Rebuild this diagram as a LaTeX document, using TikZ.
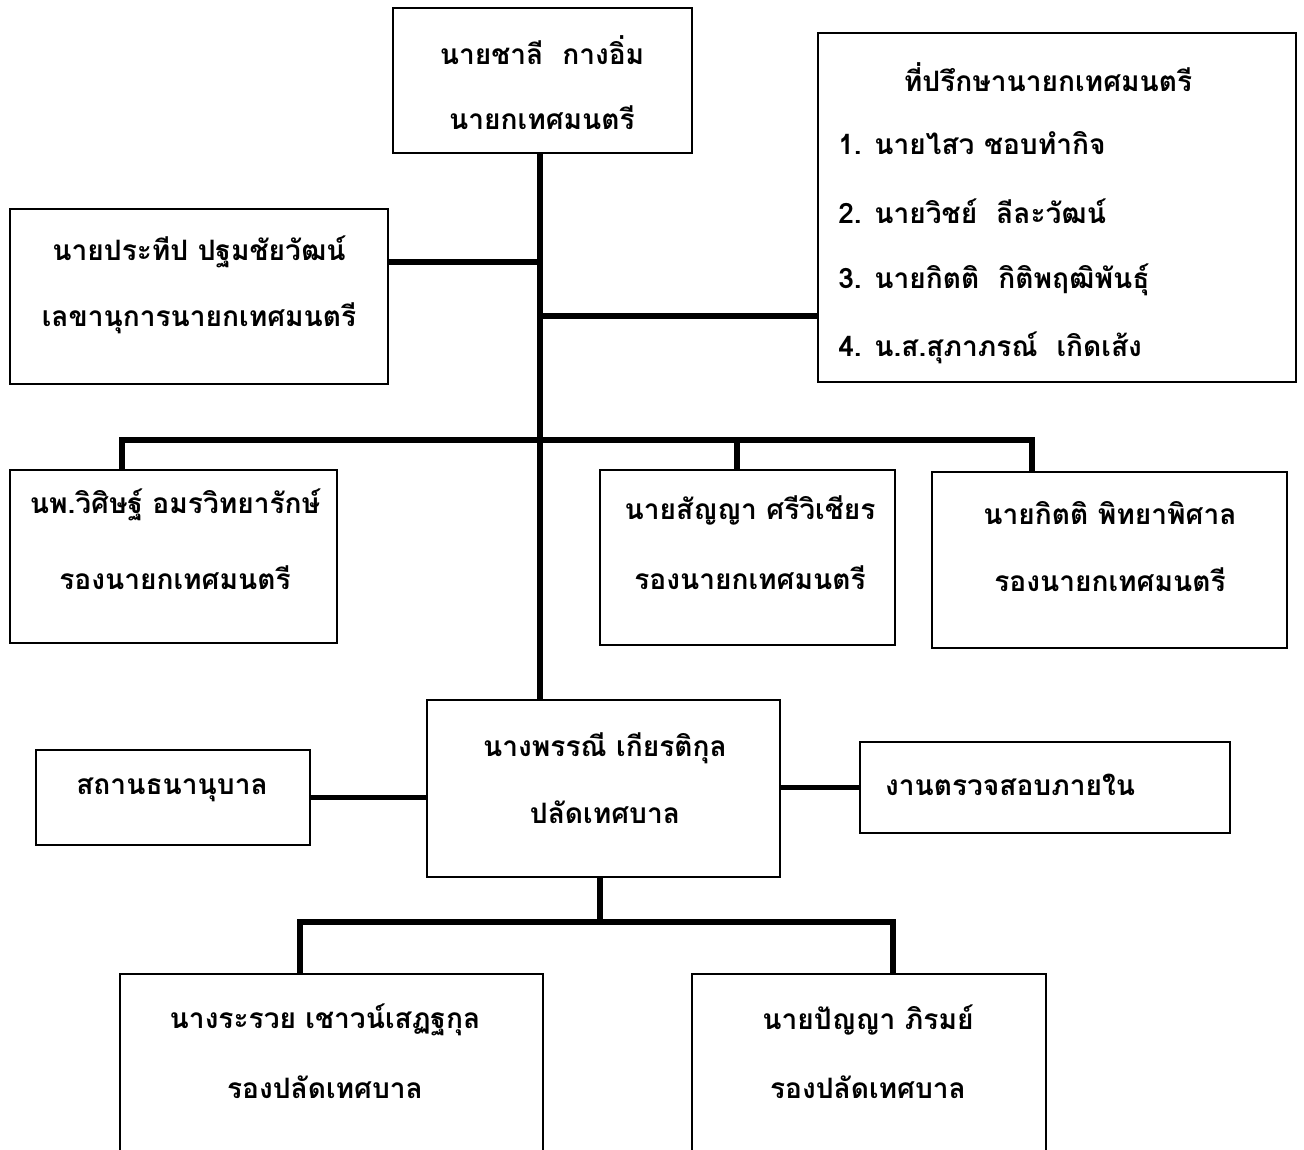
\documentclass[tikz,border=0pt]{standalone}
\usepackage{fontspec}
\newfontfamily\thaifont[Script=Thai]{Loma}

\tikzset{
  box/.style={draw, line width=1pt, rectangle, inner sep=0pt},
  txt/.style={font=\thaifont\bfseries\fontsize{16}{20}\selectfont, inner sep=0pt},
  link/.style={line width=3.2pt}
}

\begin{document}
\begin{tikzpicture}[x=0.02cm, y=-0.02cm]
  \useasboundingbox (0,0) rectangle (1304,1149);
  \clip (0,0) rectangle (1304,1149);
  % boxes
  \node[box, minimum width=5.98cm, minimum height=2.9cm] (mayor) at (542.5,80.5) {};
  \node[box, minimum width=7.56cm, minimum height=3.5cm] (sec) at (199,296.5) {};
  \node[box, minimum width=9.56cm, minimum height=6.98cm] (adv) at (1057,207.5) {};
  \node[box, minimum width=6.54cm, minimum height=3.46cm] (dep1) at (173.5,556.5) {};
  \node[box, minimum width=5.9cm, minimum height=3.5cm] (dep2) at (747.5,557.5) {};
  \node[box, minimum width=7.1cm, minimum height=3.52cm] (dep3) at (1109.5,560) {};
  \node[box, minimum width=7.06cm, minimum height=3.54cm] (clerk) at (603.5,788.5) {};
  \node[box, minimum width=5.48cm, minimum height=1.9cm] (nurs) at (173,797.5) {};
  \node[box, minimum width=7.4cm, minimum height=1.82cm] (audit) at (1045,787.5) {};
  \node[box, minimum width=8.46cm, minimum height=4cm] (dcl1) at (331.5,1074) {};
  \node[box, minimum width=7.08cm, minimum height=4cm] (dcl2) at (869,1074) {};

  % texts
  \node[txt] (mayorA) at (542,50) {นายชาลี~~กางอิ่ม};
  \node[txt] (mayorB) at (542,118) {นายกเทศมนตรี};
  \node[txt] (secA) at (199,252) {นายประทีป ปฐมชัยวัฒน์};
  \node[txt] (secB) at (199,318) {เลขานุการนายกเทศมนตรี};
  \node[txt] (advT) at (1048,77) {ที่ปรึกษานายกเทศมนตรี};
  \node[txt, anchor=west] (adv1) at (838,143) {1. นายไสว ชอบทำกิจ};
  \node[txt, anchor=west] (adv2) at (838,211) {2. นายวิชย์~~ลีละวัฒน์};
  \node[txt, anchor=west] (adv3) at (838,280) {3. นายกิตติ~~กิติพฤฒิพันธุ์};
  \node[txt, anchor=west] (adv4) at (838,348) {4. น.ส.สุภาภรณ์~~เกิดเส้ง};
  \node[txt] (dep1A) at (175,505) {นพ.วิศิษฐ์ อมรวิทยารักษ์};
  \node[txt] (dep1B) at (175,578) {รองนายกเทศมนตรี};
  \node[txt] (dep2A) at (750,510) {นายสัญญา ศรีวิเชียร};
  \node[txt] (dep2B) at (750,578) {รองนายกเทศมนตรี};
  \node[txt] (dep3A) at (1110,513) {นายกิตติ พิทยาพิศาล};
  \node[txt] (dep3B) at (1110,580) {รองนายกเทศมนตรี};
  \node[txt] (clerkA) at (605,748) {นางพรรณี เกียรติกุล};
  \node[txt] (clerkB) at (605,812) {ปลัดเทศบาล};
  \node[txt] (nursA) at (172,790) {สถานธนานุบาล};
  \node[txt] (auditA) at (1010,785) {งานตรวจสอบภายใน};
  \node[txt] (dcl1A) at (325,1020) {นางระรวย เชาวน์เสฏฐกุล};
  \node[txt] (dcl1B) at (325,1087) {รองปลัดเทศบาล};
  \node[txt] (dcl2A) at (868,1020) {นายปัญญา ภิรมย์};
  \node[txt] (dcl2B) at (868,1087) {รองปลัดเทศบาล};

  % connectors
  \coordinate (secJ) at (540,262);
  \coordinate (advJ) at (540,316);
  \draw[link] (mayor.south -| secJ) -- (clerk.north -| secJ);
  \draw[link] (secJ) -- (secJ -| sec.east);
  \draw[link] (advJ) -- (advJ -| adv.west);
  \coordinate (busA) at (122,440);
  \coordinate (busB) at (737,440);
  \coordinate (busC) at (1032,440);
  \draw[link] (busA |- dep1.north) -- (busA) -- (busC) -- (busC |- dep3.north);
  \draw[link] (busB) -- (busB |- dep2.north);
  \draw[link] (nurs.east) -- (nurs.east -| clerk.west);
  \draw[link] (audit.west) -- (audit.west -| clerk.east);
  \coordinate (subTop) at (600,922);
  \coordinate (subA) at (300,922);
  \coordinate (subB) at (893,922);
  \draw[link] (subTop |- clerk.south) -- (subTop);
  \draw[link] (subA |- dcl1.north) -- (subA) -- (subB) -- (subB |- dcl2.north);
\end{tikzpicture}
\end{document}
